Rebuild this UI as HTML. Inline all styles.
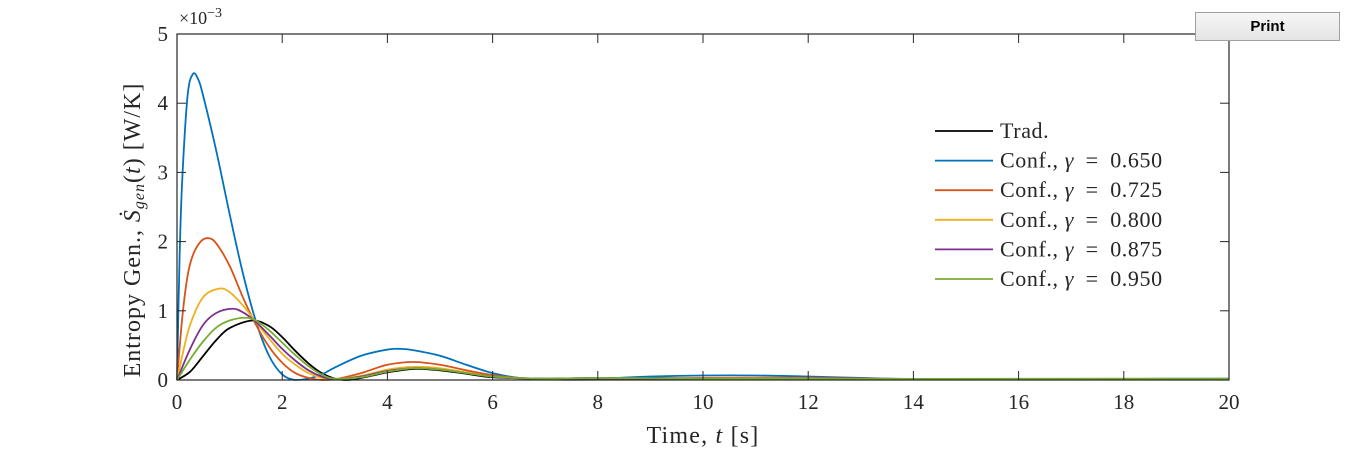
<!DOCTYPE html>
<html><head><meta charset="utf-8"><style>
body{margin:0;background:#fff;width:1358px;height:452px;overflow:hidden;position:relative}
svg text{font-family:"Liberation Serif",serif;fill:#262626}
#print{position:absolute;left:1195px;top:12px;width:145px;height:29px;box-sizing:border-box;border:1px solid #a0a0a0;background:linear-gradient(#f6f6f6,#e4e4e4);font:bold 15px "Liberation Sans",sans-serif;text-align:center;line-height:27px;color:#000}
</style></head><body>
<div id="print">Print</div>
<svg id="chart" width="1358" height="452"></svg>
<script>
const xTicks=[0,2,4,6,8,10,12,14,16,18,20];
const yTicks=[0,1,2,3,4,5];
const seriesNames=["Trad.","Conf., γ = 0.650","Conf., γ = 0.725","Conf., γ = 0.800","Conf., γ = 0.875","Conf., γ = 0.950"];
const seriesColors=["#000000","#0072bd","#d95319","#edb120","#7e2f8e","#77ac30"];
const tTrad=[0,0.25,0.5,0.75,1,1.43,1.75,2,2.25,2.5,2.75,3,3.25,3.5,4,4.5,5,5.5,6,7,8,9,10,12,14,20];
const vTrad=[0,0.12,0.35,0.58,0.75,0.86,0.78,0.62,0.42,0.24,0.1,0.02,0,0.03,0.11,0.16,0.14,0.09,0.04,0.02,0.03,0.03,0.02,0.01,0.01,0.01];
const t650=[0,0.05,0.1,0.2,0.3,0.4,0.5,0.75,1,1.25,1.5,1.75,2,2.25,2.5,2.75,3,3.5,4,4.25,4.5,5,5.5,6,6.5,7,8,9,10,11,12,13,14,16,18,20];
const v650=[0,1.8,2.9,4.1,4.42,4.35,4.1,3.3,2.4,1.55,0.85,0.35,0.08,0,0.02,0.08,0.18,0.35,0.44,0.45,0.43,0.35,0.22,0.1,0.03,0.01,0.02,0.05,0.065,0.065,0.05,0.03,0.015,0.01,0.015,0.02];
const t725=[0,0.1,0.2,0.3,0.45,0.6,0.75,1,1.25,1.5,1.75,2,2.25,2.5,2.75,3,3.5,4,4.5,5,5.5,6,6.5,7,8,10,12,14,16,20];
const v725=[0,0.9,1.5,1.8,2.0,2.05,1.97,1.65,1.2,0.8,0.48,0.25,0.1,0.03,0,0.01,0.1,0.22,0.26,0.22,0.14,0.07,0.03,0.01,0.01,0.03,0.03,0.015,0.01,0.015];
const t800=[0,0.1,0.25,0.5,0.8,1,1.25,1.5,1.75,2,2.25,2.5,2.75,3,3.5,4,4.5,5,5.5,6,7,8,10,12,14,20];
const v800=[0,0.35,0.8,1.2,1.32,1.27,1.08,0.84,0.6,0.38,0.22,0.1,0.03,0.01,0.06,0.15,0.19,0.17,0.11,0.05,0.01,0.01,0.02,0.02,0.01,0.01];
const t875=[0,0.25,0.5,0.75,1.05,1.25,1.5,1.75,2,2.25,2.5,2.75,3,3.5,4,4.5,5,5.5,6,7,8,10,12,20];
const v875=[0,0.45,0.8,0.97,1.03,0.98,0.84,0.65,0.45,0.28,0.14,0.05,0.01,0.05,0.13,0.17,0.15,0.1,0.05,0.01,0.005,0.01,0.01,0.01];
const t950=[0,0.25,0.5,0.75,1,1.3,1.5,1.75,2,2.25,2.5,2.75,3,3.5,4,4.5,5,5.5,6,7,8,10,12,20];
const v950=[0,0.3,0.56,0.76,0.86,0.9,0.86,0.72,0.54,0.36,0.2,0.08,0.02,0.04,0.12,0.17,0.15,0.1,0.05,0.02,0.03,0.02,0.015,0.02];
const seriesT=[tTrad,t650,t725,t800,t875,t950];
const seriesV=[vTrad,v650,v725,v800,v875,v950];

const L=177,R=1229,T=34,B=380;
const X=t=>L+(R-L)*t/20, Y=v=>B-(B-T)*v/5;
const svg=document.getElementById('chart'),NS='http://www.w3.org/2000/svg';
function mk(tag,at,parent){const e=document.createElementNS(NS,tag);for(const k in at)e.setAttribute(k,at[k]);(parent||svg).appendChild(e);return e;}
seriesT.forEach((ts,i)=>{
  const p=ts.map((t,j)=>[X(t),Y(seriesV[i][j])]);
  let d='M'+p[0][0]+','+p[0][1];
  for(let j=0;j<p.length-1;j++){const p0=p[j-1]||p[j],p1=p[j],p2=p[j+1],p3=p[j+2]||p2;
    const c1=[p1[0]+(p2[0]-p0[0])/6,p1[1]+(p2[1]-p0[1])/6],c2=[p2[0]-(p3[0]-p1[0])/6,p2[1]-(p3[1]-p1[1])/6];
    d+=`C${c1[0]},${Math.min(B,c1[1])} ${c2[0]},${Math.min(B,c2[1])} ${p2[0]},${p2[1]}`;}
  const el=mk('path',{d,fill:'none',stroke:seriesColors[i],'stroke-width':1.8});
  
  
});
const box=mk('rect',{x:L,y:T,width:R-L,height:B-T,fill:'none',stroke:'#262626','stroke-width':1.2});


xTicks.forEach(t=>{const x=X(t);
  mk('line',{x1:x,x2:x,y1:B,y2:B-9,stroke:'#262626'});mk('line',{x1:x,x2:x,y1:T,y2:T+9,stroke:'#262626'});
  const tx=mk('text',{x:x,y:B+29,'text-anchor':'middle','font-size':21});tx.textContent=t;
  
  });
yTicks.forEach(v=>{const y=Y(v);
  mk('line',{x1:L,x2:L+9,y1:y,y2:y,stroke:'#262626'});mk('line',{x1:R,x2:R-9,y1:y,y2:y,stroke:'#262626'});
  const tx=mk('text',{x:L-9,y:y+7,'text-anchor':'end','font-size':21});tx.textContent=v;
  
  });
const ex=mk('text',{x:179,y:24,'font-size':18});ex.innerHTML='×10<tspan dy="-7" font-size="14">−3</tspan>';


const xl=mk('text',{x:703,y:443,'text-anchor':'middle','font-size':24,'letter-spacing':1.2});xl.innerHTML='Time, <tspan font-style="italic">t</tspan> [s]';


const yl=mk('text',{x:0,y:0,'text-anchor':'middle','font-size':24,'letter-spacing':1,transform:'translate(140,230) rotate(-90)'});
yl.innerHTML='Entropy Gen., <tspan font-style="italic">Ṡ</tspan><tspan font-style="italic" font-size="16" dy="4">gen</tspan><tspan dy="-4">(</tspan><tspan font-style="italic">t</tspan>) [W/K]';


seriesNames.forEach((n,i)=>{const y=131+29.6*i;
  const g=mk('g',{});
  
  
  mk('line',{x1:935,x2:993,y1:y,y2:y,stroke:seriesColors[i],'stroke-width':1.8},g);
  const tx=mk('text',{x:1000,y:y+7,'font-size':22,'letter-spacing':0.6},g);
  tx.innerHTML=i==0?n:'Conf., <tspan font-style="italic">γ</tspan>\u2002=\u2002'+n.split('= ')[1];});
</script>
</body></html>
